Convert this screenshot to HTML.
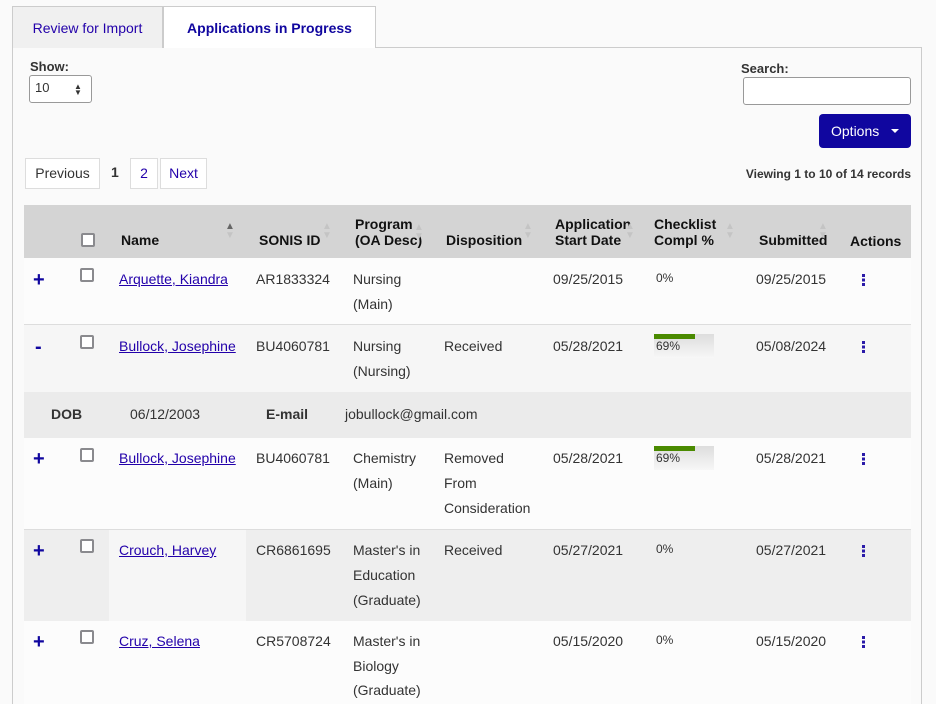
<!DOCTYPE html>
<html style="overflow:hidden;height:704px"><head><meta charset="utf-8"><style>
body{margin:0;width:936px;height:704px;overflow:hidden;background:#fafafa;font-family:"Liberation Sans",Arial,sans-serif;color:#333;position:relative}
div,span,a{position:absolute;box-sizing:border-box}
.t{font-size:14px;line-height:25px;white-space:nowrap}
.b{font-weight:bold}
a.lk{color:#2200aa;text-decoration:underline;font-size:14px;line-height:25px;white-space:nowrap}
.cb{width:14px;height:14px;border:2px solid #8a8a8e;border-radius:2px;background:#fff}
.pm{color:#10069f;font-weight:bold;font-size:20px;line-height:20px}
.dots{width:3px;height:12px;background:repeating-linear-gradient(#2a1aa8 0 3px,transparent 3px 4.5px)}
.hd{font-size:14px;font-weight:bold;line-height:16px;color:#111;white-space:nowrap}
.sa{width:10px;height:20px;font-size:10px;line-height:9px;color:#c4c4c4;text-align:center}
.bar{width:60px;height:24px;background:linear-gradient(#ddd,#f7f7f7)}
.pb{border:1px solid #ddd;background:#fff;font-size:14px;line-height:28px;text-align:center}
</style></head><body>
<div style="left:12px;top:6px;width:151px;height:42px;background:#f0f0f0;border:1px solid #ccc;border-bottom:none;color:#2200aa;font-size:14px;line-height:42px;text-align:center">Review for Import</div>
<div style="left:163px;top:6px;width:213px;height:42px;background:#fff;border:1px solid #ccc;border-bottom:none;color:#10069f;font-weight:bold;font-size:14px;line-height:42px;text-align:center">Applications in Progress</div>
<div style="left:12px;top:47px;width:910px;height:657px;border-left:1px solid #ccc;border-right:1px solid #ccc"></div>
<div style="left:375px;top:47px;width:547px;height:1px;background:#ccc"></div>

<div class="t b" style="left:30px;top:54px;font-size:13px">Show:</div>
<div style="left:29px;top:75px;width:63px;height:28px;border:1px solid #999;border-radius:3px;background:#fff;font-size:13px;line-height:24px;padding-left:5px">10<span style="left:44px;font-size:8px;line-height:6px;top:8px">▲<br>▼</span></div>

<div class="t b" style="left:741px;top:56px;font-size:13px">Search:</div>
<div style="left:743px;top:77px;width:168px;height:28px;border:1px solid #999;border-radius:3px;background:#fff"></div>
<div style="left:819px;top:114px;width:92px;height:34px;background:#10069f;border-radius:4px;color:#fff;font-size:14px;line-height:34px;padding-left:12px">Options<span style="left:72px;top:15px;width:0;height:0;border-left:4px solid transparent;border-right:4px solid transparent;border-top:4px solid #fff"></span></div>
<div class="t b" style="right:25px;top:162px;font-size:12px">Viewing 1 to 10 of 14 records</div>

<div class="pb" style="left:25px;top:158px;width:75px;height:31px">Previous</div>
<div class="t b" style="left:111px;top:160px">1</div>
<div class="pb" style="left:130px;top:158px;width:28px;height:31px;color:#2200aa">2</div>
<div class="pb" style="left:160px;top:158px;width:47px;height:31px;color:#2200aa">Next</div>

<div style="left:24px;top:205px;width:887px;height:54px;background:#d4d4d4"></div>
<div class="cb" style="left:81px;top:233px"></div>
<div class="hd" style="left:121px;top:232px">Name</div>
<div class="sa" style="left:225px;top:222px;color:#666">▲<br><span style="position:static;color:#c4c4c4">▼</span></div>
<div class="hd" style="left:259px;top:232px">SONIS ID</div>
<div class="sa" style="left:322px;top:222px">▲<br>▼</div>
<div class="hd" style="left:355px;top:216px">Program<br>(OA Desc)</div>
<div class="sa" style="left:414px;top:223px">▲<br>▼</div>
<div class="hd" style="left:446px;top:232px">Disposition</div>
<div class="sa" style="left:523px;top:222px">▲<br>▼</div>
<div class="hd" style="left:555px;top:216px">Application<br>Start Date</div>
<div class="sa" style="left:625px;top:222px">▲<br>▼</div>
<div class="hd" style="left:654px;top:216px">Checklist<br>Compl %</div>
<div class="sa" style="left:725px;top:222px">▲<br>▼</div>
<div class="hd" style="left:759px;top:232px">Submitted</div>
<div class="sa" style="left:818px;top:222px">▲<br>▼</div>
<div class="hd" style="left:850px;top:233px">Actions</div>

<div style="left:24px;top:258px;width:887px;height:67px;background:#fcfcfc;border-bottom:1px solid #ddd"></div>
<div style="left:24px;top:325px;width:887px;height:67px;background:#f6f6f6"></div>
<div style="left:24px;top:392px;width:887px;height:46px;background:#ebebeb"></div>
<div style="left:24px;top:438px;width:887px;height:92px;background:#fcfcfc;border-bottom:1px solid #ddd"></div>
<div style="left:24px;top:530px;width:887px;height:91px;background:#eeeeee"></div>
<div style="left:109px;top:530px;width:137px;height:91px;background:#f6f6f6"></div>
<div style="left:24px;top:621px;width:887px;height:83px;background:#fcfcfc"></div>

<div class="pm" style="left:33px;top:270px">+</div>
<div class="cb" style="left:80px;top:268px"></div>
<a class="lk" style="left:119px;top:267px">Arquette, Kiandra</a>
<div class="t" style="left:256px;top:267px">AR1833324</div>
<div class="t" style="left:353px;top:267px">Nursing<br>(Main)</div>
<div class="t" style="left:553px;top:267px">09/25/2015</div>
<div class="t" style="left:656px;top:266px;font-size:12px">0%</div>
<div class="t" style="left:756px;top:267px">09/25/2015</div>
<div class="dots" style="left:862px;top:274px"></div>

<div class="pm" style="left:35px;top:337px">-</div>
<div class="cb" style="left:80px;top:335px"></div>
<a class="lk" style="left:119px;top:334px">Bullock, Josephine</a>
<div class="t" style="left:256px;top:334px">BU4060781</div>
<div class="t" style="left:353px;top:334px">Nursing<br>(Nursing)</div>
<div class="t" style="left:444px;top:334px">Received</div>
<div class="t" style="left:553px;top:334px">05/28/2021</div>
<div class="bar" style="left:654px;top:334px"><span style="left:0;top:0;width:41px;height:5px;background:#4a8a00"></span><span style="left:2px;top:4px;font-size:12px;line-height:16px">69%</span></div>
<div class="t" style="left:756px;top:334px">05/08/2024</div>
<div class="dots" style="left:862px;top:341px"></div>

<div class="t b" style="left:51px;top:402px">DOB</div>
<div class="t" style="left:130px;top:402px">06/12/2003</div>
<div class="t b" style="left:266px;top:402px">E-mail</div>
<div class="t" style="left:345px;top:402px">jobullock@gmail.com</div>

<div class="pm" style="left:33px;top:449px">+</div>
<div class="cb" style="left:80px;top:448px"></div>
<a class="lk" style="left:119px;top:446px">Bullock, Josephine</a>
<div class="t" style="left:256px;top:446px">BU4060781</div>
<div class="t" style="left:353px;top:446px">Chemistry<br>(Main)</div>
<div class="t" style="left:444px;top:446px">Removed<br>From<br>Consideration</div>
<div class="t" style="left:553px;top:446px">05/28/2021</div>
<div class="bar" style="left:654px;top:446px"><span style="left:0;top:0;width:41px;height:5px;background:#4a8a00"></span><span style="left:2px;top:4px;font-size:12px;line-height:16px">69%</span></div>
<div class="t" style="left:756px;top:446px">05/28/2021</div>
<div class="dots" style="left:862px;top:453px"></div>

<div class="pm" style="left:33px;top:541px">+</div>
<div class="cb" style="left:80px;top:539px"></div>
<a class="lk" style="left:119px;top:538px">Crouch, Harvey</a>
<div class="t" style="left:256px;top:538px">CR6861695</div>
<div class="t" style="left:353px;top:538px">Master's in<br>Education<br>(Graduate)</div>
<div class="t" style="left:444px;top:538px">Received</div>
<div class="t" style="left:553px;top:538px">05/27/2021</div>
<div class="t" style="left:656px;top:537px;font-size:12px">0%</div>
<div class="t" style="left:756px;top:538px">05/27/2021</div>
<div class="dots" style="left:862px;top:545px"></div>

<div class="pm" style="left:33px;top:632px">+</div>
<div class="cb" style="left:80px;top:630px"></div>
<a class="lk" style="left:119px;top:629px">Cruz, Selena</a>
<div class="t" style="left:256px;top:629px">CR5708724</div>
<div class="t" style="left:353px;top:629px;line-height:24.5px">Master's in<br>Biology<br>(Graduate)</div>
<div class="t" style="left:553px;top:629px">05/15/2020</div>
<div class="t" style="left:656px;top:628px;font-size:12px">0%</div>
<div class="t" style="left:756px;top:629px">05/15/2020</div>
<div class="dots" style="left:862px;top:636px"></div>
</body></html>
